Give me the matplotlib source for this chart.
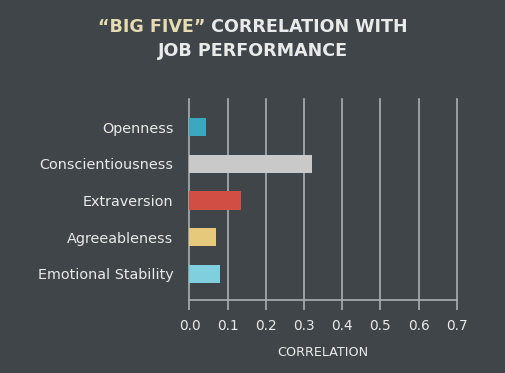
import matplotlib
matplotlib.use("Agg")
import matplotlib.pyplot as plt

traits = ["Openness", "Conscientiousness", "Extraversion", "Agreeableness", "Emotional Stability"]
corr = [0.042, 0.32, 0.136, 0.07, 0.08]
colors = ["#3ba8c0", "#c9c9c9", "#d14e44", "#e7c97b", "#80cfdf"]
xticks = [0.0, 0.1, 0.2, 0.3, 0.4, 0.5, 0.6, 0.7]

bg = "#3f4548"
grid_c = "#a9afb2"
txt_c = "#e9eaea"
gold = "#e6dcb2"

plt.rcParams['font.family'] = ['DejaVu Sans']

fig = plt.figure(figsize=(5.06, 3.73), dpi=100, facecolor=bg)
ax = fig.add_axes([0.3745, 0.1957, 0.5281, 0.539])
ax.set_facecolor(bg)

y = list(range(len(traits)))
ax.barh(y, corr, height=0.5, color=colors, zorder=3)
ax.set_ylim(4.71, -0.77)
ax.set_xlim(0, 0.7)

ax.set_xticks(xticks)
ax.set_xticklabels(["%.1f" % v for v in xticks], fontsize=9.8, color=txt_c)
ax.set_yticks(y)
ax.set_yticklabels(traits, fontsize=10.4, color=txt_c)
ax.tick_params(axis='y', length=0, pad=11.5)
ax.tick_params(axis='x', length=7, width=1.2, color=grid_c, pad=7)

ax.grid(axis='x', color=grid_c, linewidth=1.2, zorder=1)
for g in ax.get_xgridlines():
    g.set_clip_on(False)
for s in ["top", "right", "left"]:
    ax.spines[s].set_visible(False)
ax.spines["bottom"].set_color(grid_c)
ax.spines["bottom"].set_linewidth(1.2)

ax.set_xlabel("CORRELATION", fontsize=9.2, color=txt_c, labelpad=9)

# two-coloured title, line 1
fig.canvas.draw()
r = fig.canvas.get_renderer()
t1 = fig.text(0, 0, "\u201cBIG FIVE\u201d", fontsize=12.6, fontweight='semibold', color=gold)
t2 = fig.text(0, 0, " CORRELATION WITH", fontsize=12.6, fontweight='semibold', color=txt_c)
w1 = t1.get_window_extent(r).width
w2 = t2.get_window_extent(r).width
W = fig.bbox.width
x0 = (W - w1 - w2) / 2 / W
t1.set_position((x0, 1 - 31.5 / 373))
t2.set_position((x0 + w1 / W, 1 - 31.5 / 373))
fig.text(0.5, 1 - 56 / 373, "JOB PERFORMANCE", fontsize=12.6, fontweight='semibold',
         color=txt_c, ha='center')

fig.savefig("out.png", dpi=100, facecolor=bg)
